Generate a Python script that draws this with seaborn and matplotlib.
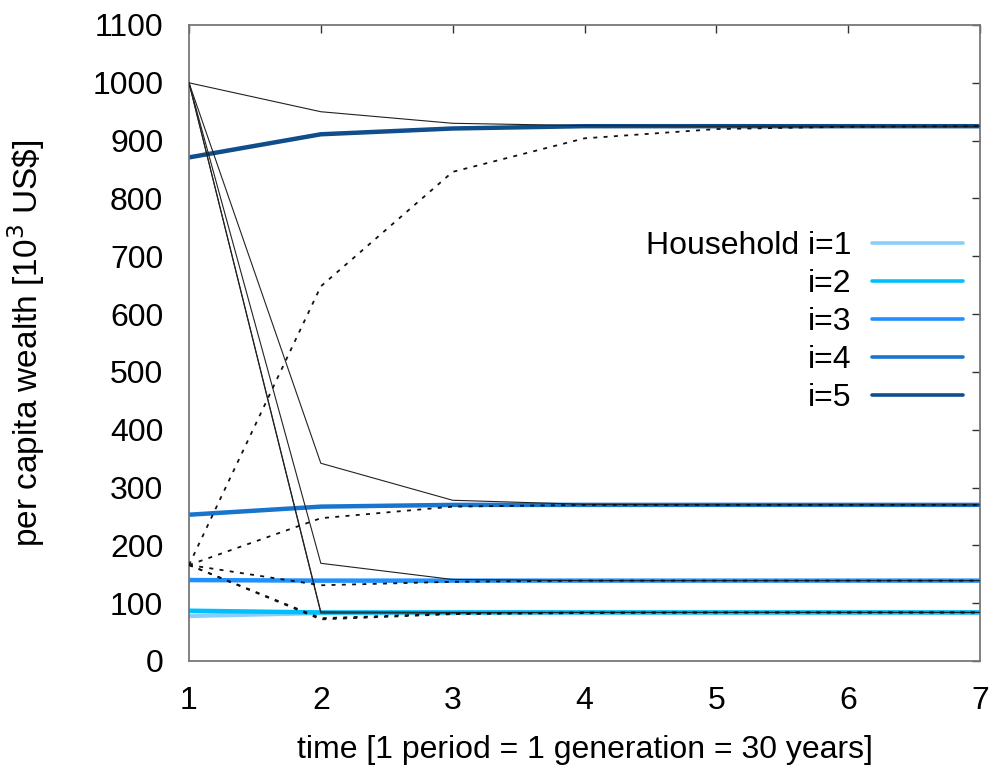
import numpy as np
import pandas as pd
import matplotlib
matplotlib.use("Agg")
import matplotlib.pyplot as plt
import seaborn as sns

sns.set_theme(style="white")
plt.rcParams['font.family'] = ['Liberation Sans', 'DejaVu Sans']
plt.rcParams['text.color'] = 'black'
plt.rcParams['axes.labelcolor'] = 'black'
plt.rcParams['xtick.color'] = 'black'
plt.rcParams['ytick.color'] = 'black'

# ---- data ----
periods = [1, 2, 3, 4, 5, 6, 7]
labels = ["Household i=1", "i=2", "i=3", "i=4", "i=5"]
colors = ["#87CEFA", "#00BFFF", "#1E90FF", "#1874CD", "#104E8B"]

# equilibrium paths (thick blue)
hh1 = [78, 83, 84, 84, 84, 84, 84]
hh2 = [87, 84, 84, 84, 84, 84, 84]
hh3 = [140, 139, 139, 139, 139, 139, 139]
hh4 = [253, 267, 270, 270, 270, 270, 270]
hh5 = [871, 911, 921, 925, 925, 925, 925]
households = [hh1, hh2, hh3, hh4, hh5]

# paths starting from high wealth (thin solid)
high1 = [1000, 83, 83, 84, 84, 84, 84]
high2 = [1000, 85, 84, 84, 84, 84, 84]
high3 = [1000, 169, 141, 139, 139, 139, 139]
high4 = [1000, 342, 278, 271, 270, 270, 270]
high5 = [1000, 950, 930, 926, 925, 925, 925]
highs = [high1, high2, high3, high4, high5]

# paths starting from low wealth (dotted)
low1 = [166, 72, 81, 83, 84, 84, 84]
low2 = [166, 74, 82, 84, 84, 84, 84]
low3 = [166, 131, 137, 139, 139, 139, 139]
low4 = [166, 247, 267, 270, 270, 270, 270]
low5 = [166, 648, 846, 904, 920, 924, 925]
lows = [low1, low2, low3, low4, low5]

yticks = [0, 100, 200, 300, 400, 500, 600, 700, 800, 900, 1000, 1100]

FS = 23

fig = plt.figure(figsize=(9.91, 7.72), dpi=100)
ax = fig.add_axes([189 / 991, 1 - 661 / 772, (980 - 189) / 991, (661 - 25) / 772])

handles = []
for vals, c, lab in zip(households, colors, labels):
    df = pd.DataFrame({"t": periods, "w": vals})
    sns.lineplot(data=df, x="t", y="w", ax=ax, color=c, lw=3.2, zorder=2)
    handles.append(plt.Line2D([], [], color=c, lw=2.6, label=lab))

for vals in highs:
    df = pd.DataFrame({"t": periods, "w": vals})
    sns.lineplot(data=df, x="t", y="w", ax=ax, color="#222222", lw=0.8, zorder=3)

for vals in lows:
    df = pd.DataFrame({"t": periods, "w": vals})
    sns.lineplot(data=df, x="t", y="w", ax=ax, color="#111111", lw=1.3,
                 zorder=3).lines[-1].set_dashes((2.2, 3.5))

ax.set_xlim(1, 7)
ax.set_ylim(0, 1100)
ax.set_xticks(periods)
ax.set_yticks(yticks)
ax.tick_params(axis="both", which="both", direction="in", length=6, width=1,
               color="#333333", labelsize=FS, top=True, right=True,
               labeltop=False, labelright=False, labelcolor="black")
ax.tick_params(axis="y", pad=18.5)
ax.tick_params(axis="x", pad=18)
for s in ax.spines.values():
    s.set_color("#777777")
    s.set_linewidth(1.3)

ax.set_xlabel("time [1 period = 1 generation = 30 years]", fontsize=FS, color="black")
ax.set_ylabel("per capita wealth [10$^3$ US\\$]", fontsize=24, color="black")
ax.yaxis.set_label_coords((47 - 189) / 791, 0.5)
ax.xaxis.set_label_coords(0.5, -(735 - 661) / 636)

leg = ax.legend(handles=handles, loc="upper right",
                bbox_to_anchor=(963 / 991, 1 - 231 / 772),
                bbox_transform=fig.transFigure, frameon=False, markerfirst=False,
                fontsize=FS, handlelength=2.85, handletextpad=0.65,
                labelspacing=0.25, borderpad=0, borderaxespad=0)
for t in leg.get_texts():
    t.set_color("black")

fig.savefig("out.png", dpi=100)
